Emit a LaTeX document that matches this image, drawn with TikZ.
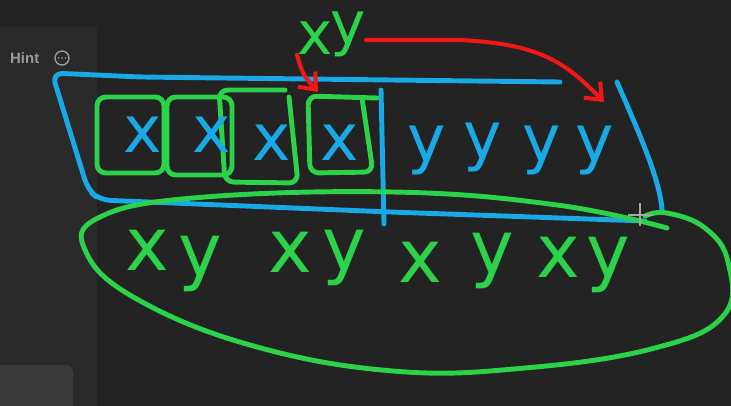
\documentclass[tikz,border=0pt]{standalone}
\usepackage{fontspec}
\setmainfont{DejaVu Sans}
\newfontfamily\hintfont{Liberation Sans}
\usetikzlibrary{arrows.meta}
\definecolor{canvas}{HTML}{232323}
\definecolor{panel}{HTML}{2A2A2A}
\definecolor{panelbox}{HTML}{3A3A3A}
\definecolor{penblue}{HTML}{18A9E6}
\definecolor{pengreen}{HTML}{2BD24A}
\definecolor{penred}{HTML}{F21616}
\definecolor{hintgray}{HTML}{9A9A9A}
\begin{document}
\begin{tikzpicture}[x = 0.02cm, y = -0.02cm,
		pen/.style = {line width = 2.8pt, line cap = round, line join = round},
		bluepen/.style = {pen, penblue},
		greenpen/.style = {pen, pengreen},
		redarrow/.style = {line width = 2.3pt, line cap = round, penred,
			-{Straight Barb[length = 2.8mm, width = 4.6mm, line width = 2.3pt]}},
		bluechar/.style = {inner sep = 0, penblue, font = \fontsize{37}{37}\selectfont},
		greenchar/.style = {inner sep = 0, pengreen, font = \fontsize{42}{42}\selectfont},
		topchar/.style = {greenchar, font = \fontsize{34}{34}\selectfont}]
	% background and side panel
	\fill[canvas] (0, 0) rectangle (731, 406);
	\useasboundingbox (0, 0) rectangle (731, 406);
	\fill[panel] (0, 27) rectangle (97, 406);
	\fill[panelbox, rounded corners = 4pt] (-10, 365) -- (73, 365) -- (73, 420) -- (-10, 420) -- cycle;
	\node[hintgray, anchor = west, font = \hintfont\bfseries\fontsize{8.5}{8.5}\selectfont] (hint) at (4, 58) {Hint};
	\node[draw = hintgray, circle, line width = 0.8pt, minimum size = 0.28cm, inner sep = 0] (menu) at (62, 58) {};
	\fill[hintgray] ([xshift = -0.07cm]menu.center) circle (0.5pt) (menu.center) circle (0.5pt) ([xshift = 0.07cm]menu.center) circle (0.5pt);
	% the blue array
	\draw[bluepen, rounded corners = 6pt] (560, 82) -- (140, 77) -- (52, 73) -- (88, 190) -- (100, 200) -- (390, 212) -- (645, 221);
	\draw[bluepen] (617, 82) .. controls (640, 135) and (660, 180) .. (662, 210);
	\draw[bluepen] (381, 90) -- (384, 224);
	% the green boxes round the x's
	\draw[greenpen, rounded corners = 5pt] (97, 97) rectangle (164, 173);
	\draw[greenpen, rounded corners = 5pt] (167, 97) rectangle (232, 175);
	\draw[greenpen, rounded corners = 5pt] (285, 90) -- (219, 90) -- (225, 182) -- (298, 183) -- (289, 97);
	\draw[greenpen, rounded corners = 5pt] (377, 98) -- (308, 96) -- (310, 173) -- (373, 172) -- (362, 98);
	% the letters in the array
	\node[bluechar] (x1) at (143, 135) {x};
	\node[bluechar] (x2) at (212, 135) {x};
	\node[bluechar] (x3) at (272, 143) {x};
	\node[bluechar] (x4) at (340, 143) {x};
	\node[bluechar] (y1) at (427, 150) {y};
	\node[bluechar] (y2) at (483, 147) {y};
	\node[bluechar] (y3) at (542, 150) {y};
	\node[bluechar] (y4) at (595, 150) {y};
	% the pair on top
	\node[topchar] (tx) at (315, 38) {x};
	\node[topchar] (ty) at (348, 34) {y};
	% the result below
	\node[greenchar] (bx1) at (147, 250) {x};
	\node[greenchar] (by1) at (200, 264) {y};
	\node[greenchar] (bx2) at (290, 252) {x};
	\node[greenchar] (by2) at (344, 258) {y};
	\node[greenchar] (bx3) at (420, 262) {x};
	\node[greenchar] (by3) at (492, 261) {y};
	\node[greenchar] (bx4) at (558, 257) {x};
	\node[greenchar] (by4) at (608, 265) {y};
	\draw[greenpen] plot[smooth, tension = 0.7] coordinates {(645, 216) (667, 213) (705, 228) (728, 262) (724, 315) (655, 348) (525, 368) (393, 371) (250, 345) (135, 298) (86, 252) (98, 218) (193, 198) (393, 192) (557, 205) (667, 228)};
	% red arrows
	\coordinate (box4top) at (318, 92);
	\coordinate (y4top) at (604, 102);
	\draw[redarrow] (tx.south west) .. controls (303, 75) .. (box4top);
	\draw[redarrow] ([yshift = -0.12cm]ty.east) -- (460, 40) .. controls (540, 44) and (565, 62) .. (y4top);
	% cursor
	\draw[gray!70, line width = 1.2pt] (640, 203) -- (640, 226) (628, 215) -- (653, 215);
\end{tikzpicture}
\end{document}
